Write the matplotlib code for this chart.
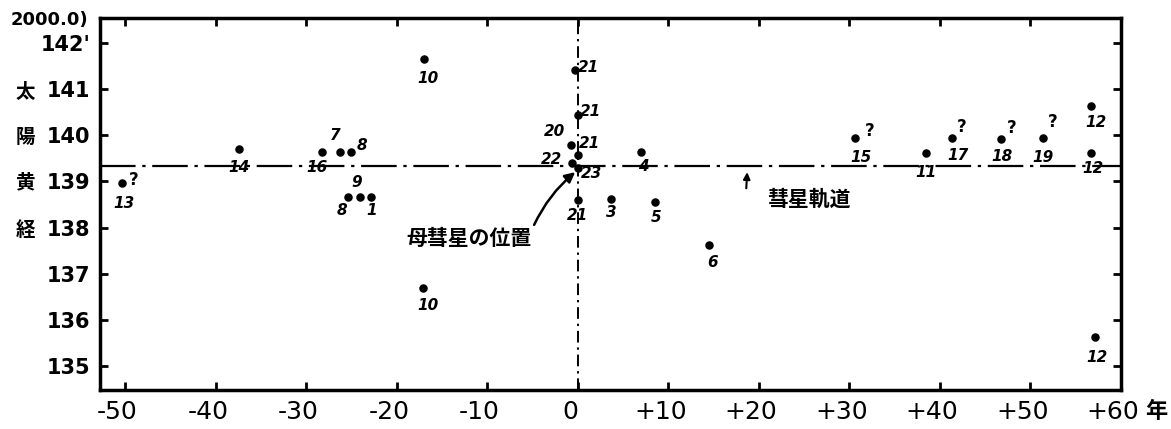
import matplotlib.pyplot as plt
from matplotlib.transforms import ScaledTranslation

plt.rcParams['font.family'] = ['DejaVu Sans']

# x: years relative to the parent comet, y: solar longitude (2000.0), degrees
years = [-50.4, -37.4, -28.3, -26.3, -25.1, -25.4, -24.1, -22.9, -17.0, -17.1,
         -0.3, 0.05, -0.8, 0.05, -0.6, 0.0, 0.05, 3.7, 7.0, 8.5, 14.5,
         30.6, 38.5, 41.3, 46.7, 51.4, 56.7, 56.7, 57.1]
longitudes = [138.96, 139.70, 139.64, 139.64, 139.64, 138.66, 138.66, 138.66, 141.65, 136.69,
              141.41, 140.44, 139.79, 139.57, 139.40, 139.29, 138.59, 138.62, 139.63, 138.55, 137.62,
              139.94, 139.61, 139.94, 139.92, 139.94, 140.63, 139.61, 135.62]
labels = ['13', '14', '16', '7', '8', '8', '9', '1', '10', '10',
          '21', '21', '20', '21', '22', '23', '21', '3', '4', '5', '6',
          '15', '11', '17', '18', '19', '12', '12', '12']
doubtful = ['13', '15', '17', '18', '19']  # marked with "?"

orbit_longitude = 139.33
xticks = [-50, -40, -30, -20, -10, 0, 10, 20, 30, 40, 50, 60]
xticklabels = ['-50', '-40', '-30', '-20', '-10', '0', '+10', '+20', '+30', '+40', '+50', '+60']
yticks = [135, 136, 137, 138, 139, 140, 141, 142]
yticklabels = ['135', '136', '137', '138', '139', '140', '141', "142'"]

# label offsets in pixels (dx, dy) relative to each dot
offsets = [(2, -20), (0, -18), (-5, -16), (-5, 16), (11, 6), (-6, -13), (-3, 15), (1, -13),
           (4, -19), (5, -17), (13, 3), (12, 3), (-16, 13), (11, 12), (-21, 3), (14, -5),
           (-1, -15), (0, -14), (2, -14), (1, -15), (3, -17), (6, -19), (0, -19), (6, -17),
           (1, -18), (0, -19), (5, -16), (2, -15), (2, -20)]
q_offsets = {'13': (12, 3), '15': (15, 7), '17': (10, 11), '18': (11, 11), '19': (10, 16)}

fig = plt.figure(figsize=(11.71, 4.29), dpi=100)
ax = fig.add_axes([100 / 1171, 1 - 390 / 429, 1021 / 1171, 372 / 429])
ax.set_xlim(-52.8, 60)
ax.set_ylim(134.48, 142.54)

# comet orbit and parent comet epoch
ax.axhline(orbit_longitude, color='black', lw=1.6, dashes=(16, 3, 1.5, 3), zorder=1)
ax.axvline(0, color='black', lw=1.4, dashes=(6, 2.5, 1.2, 2.5), zorder=1)

ax.scatter(years, longitudes, s=26, color='black', zorder=3)

px = 0.72  # pixel -> points at 100 dpi
for x, y, lab, (dx, dy) in zip(years, longitudes, labels, offsets):
    ax.annotate(lab, (x, y), xytext=(dx * px, dy * px), textcoords='offset points',
                ha='center', va='center', fontsize=11, fontweight='bold', style='italic')
    if lab in doubtful:
        qx, qy = q_offsets[lab]
        ax.annotate('?', (x, y), xytext=(qx * px, qy * px), textcoords='offset points',
                    ha='center', va='center', fontsize=12, fontweight='bold')

jp = ['Noto Sans CJK JP', 'DejaVu Sans']
ax.annotate('母彗星の位置', xy=(-0.3, 139.2), xytext=(-12.0, 137.77),
            ha='center', va='center', fontsize=15, fontweight='bold', family=jp,
            arrowprops=dict(arrowstyle='-|>', color='black', lw=1.8,
                            shrinkA=0, shrinkB=0, connectionstyle='arc3,rad=-0.12',
                            relpos=(1.0, 0.9)))
ax.annotate('彗星軌道', xy=(18.7, 139.2), xytext=(25.5, 138.62),
            ha='center', va='center', fontsize=15, fontweight='bold', family=jp)
ax.annotate('', xy=(18.7, 139.2), xytext=(18.6, 138.85),
            arrowprops=dict(arrowstyle='-|>', color='black', lw=1.5, shrinkA=0, shrinkB=0))

ax.set_xticks(xticks)
ax.set_xticklabels(xticklabels, fontsize=18)
ax.set_yticks(yticks)
ax.set_yticklabels(yticklabels, fontsize=15, fontweight='bold')
ax.tick_params(direction='in', length=6, width=2, top=True, right=True, pad=7)
shift = ScaledTranslation(-8 / 100, 0, fig.dpi_scale_trans)
for t in ax.get_xticklabels():
    t.set_transform(t.get_transform() + shift)
for sp in ax.spines.values():
    sp.set_linewidth(2.5)

# axis annotations
fig.text(88 / 1171, 1 - 20 / 429, '2000.0)', ha='right', va='center', fontsize=13,
         fontweight='bold')
for ch, ypx in zip('太陽黄経', [93, 137, 183, 230]):
    fig.text(25 / 1171, 1 - ypx / 429, ch, ha='center', va='center', fontsize=14,
             fontweight='bold', family=jp)
fig.text(1156 / 1171, 1 - 411 / 429, '年', ha='center', va='center', fontsize=16,
         fontweight='bold', family=jp)

fig.savefig('out.png', dpi=100)
